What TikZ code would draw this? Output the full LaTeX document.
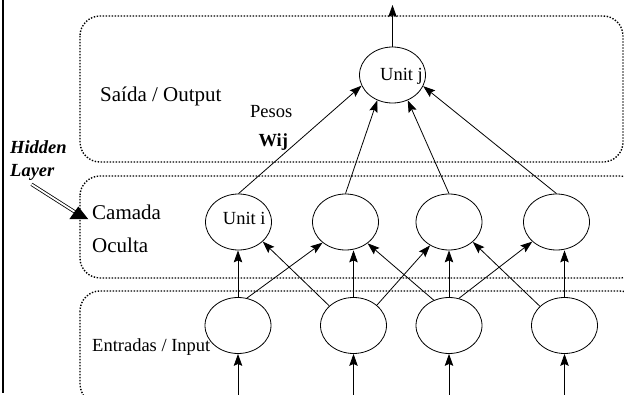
\documentclass[tikz,border=0pt]{standalone}
\usepackage{fontspec}
\setmainfont{Liberation Serif}
\usetikzlibrary{shapes.geometric,arrows.meta}
\begin{document}
\begin{tikzpicture}[x=1pt,y=-1pt,
  unit/.style={ellipse, draw, line width=0.8pt, minimum width=66pt, minimum height=56pt, inner sep=0pt},
  layerbox/.style={line width=1.4pt, dash pattern=on 1.4pt off 1.6pt, rounded corners=20pt},
  conn/.style={line width=0.8pt, -{Stealth[length=12pt,width=8.5pt,inset=2pt]}},
  txt/.style={inner sep=0pt, anchor=base west, font=\fontsize{18.5}{20}\selectfont},
  bigtxt/.style={txt, font=\fontsize{21}{23}\selectfont}]
\useasboundingbox (0,0) rectangle (624,395);

% layer frames
\begin{scope}
  \clip (0,0) rectangle (624,395);
  \draw[layerbox] (80,16) rectangle (623,162);
  \draw[layerbox] (80,176) rectangle (640,278);
  \draw[layerbox] (80,291) rectangle (640,404);
\end{scope}

% left rule
\draw[line width=2.4pt] (2.8,0) -- (2.8,393);

% units
\node[unit] (J) at (392.5,75) {};
\node[unit] (h1) at (238.5,222) {};
\node[unit] (h2) at (345.5,222) {};
\node[unit] (h3) at (449,222) {};
\node[unit] (h4) at (556.5,222) {};
\node[unit] (in1) at (238,325.5) {};
\node[unit] (in2) at (353.5,325.5) {};
\node[unit] (in3) at (449,325.5) {};
\node[unit] (in4) at (564.5,325.5) {};

% labels
\node[txt] (tj) at (380,81) {Unit j};
\node[txt] (ti) at (222.7,225) {Unit i};
\node[bigtxt] (tout) at (100,101.5) {Saída / Output};
\node[txt] (tpesos) at (250,117.5) {Pesos};
\node[txt, font=\fontsize{18.5}{20}\selectfont\bfseries] (twij) at (258.3,146.7) {Wij};
\node[txt, font=\fontsize{18.5}{20}\selectfont\bfseries\itshape] (thid) at (10,154) {Hidden};
\node[txt, font=\fontsize{18.5}{20}\selectfont\bfseries\itshape] (tlay) at (10,176.5) {Layer};
\node[bigtxt] (tcam) at (92,219.3) {Camada};
\node[bigtxt] (tocu) at (92,252.7) {Oculta};
\node[txt] (tin) at (92,351.7) {Entradas / Input};

% free ends
\coordinate (top) at (392.5,5);
\coordinate (b1) at (238,396);
\coordinate (b2) at (353.5,396);
\coordinate (b3) at (449,396);
\coordinate (b4) at (564.5,396);
\coordinate (hl) at (31.5,184.3);
\coordinate (hlend) at (75,212);

% hidden layer pointer: double shaft and solid head
\draw[double, double distance=1.8pt, line width=0.8pt] (hl) -- (hlend);
\fill (88.3,219.2) -- (78.3,206.5) -- (69.3,219.2) -- cycle;

% inputs
\draw[conn] (b1) -- (in1.south);
\draw[conn] (b2) -- (in2.south);
\draw[conn] (b3) -- (in3.south);
\draw[conn] (b4) -- (in4.south);

% input -> hidden
\draw[conn] (in1.north) -- (in1.north |- h1.south);
\draw[conn] (in2.north) -- (in2.north |- h2.south);
\draw[conn] (in3.north) -- (in3.north |- h3.south);
\draw[conn] (in4.north) -- (in4.north |- h4.south);
\draw[conn] (in1.72.5) -- (h2.222);
\draw[conn] (in2.141.5) -- (h1.321);
\draw[conn] (in2.41.6) -- (h3.231.8);
\draw[conn] (in3.121.7) -- (h2.316);
\draw[conn] (in3.70.7) -- (h4.219);
\draw[conn] (in4.142.6) -- (h3.320);

% hidden -> output
\draw[conn] (h1.north) -- (J.199.8);
\draw[conn] (h2.north) -- (J.239.8);
\draw[conn] (h3.north) -- (J.301);
\draw[conn] (h4.north) -- (J.340.6);
\draw[conn] (J.north) -- (top);
\end{tikzpicture}
\end{document}
